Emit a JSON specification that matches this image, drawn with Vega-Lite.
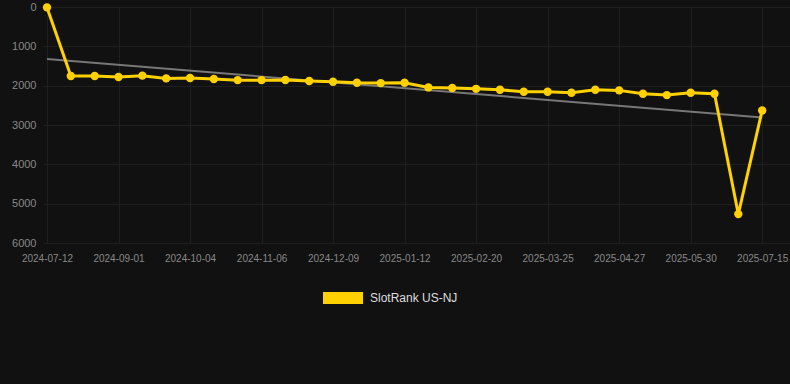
{
  "$schema": "https://vega.github.io/schema/vega-lite/v6.json",
  "width": 747,
  "height": 236,
  "autosize": {"type": "none"},
  "padding": {"left": 43, "top": 7, "right": 0, "bottom": 141},
  "background": "#111111",
  "config": {
    "view": {"stroke": null},
    "font": "Liberation Sans",
    "axis": {"gridColor": "#1f1f1f", "gridWidth": 1, "domain": false, "ticks": false, "labelColor": "#888888", "labelFont": "Liberation Sans"}
  },
  "datasets": {
    "rank": [
      {"date": "2024-07-12", "rank": 10},
      {"date": "2024-07-29", "rank": 1755},
      {"date": "2024-08-15", "rank": 1755},
      {"date": "2024-09-01", "rank": 1780},
      {"date": "2024-09-12", "rank": 1745},
      {"date": "2024-09-23", "rank": 1815},
      {"date": "2024-10-04", "rank": 1805},
      {"date": "2024-10-15", "rank": 1830},
      {"date": "2024-10-26", "rank": 1860},
      {"date": "2024-11-06", "rank": 1860},
      {"date": "2024-11-17", "rank": 1855},
      {"date": "2024-11-28", "rank": 1880},
      {"date": "2024-12-09", "rank": 1900},
      {"date": "2024-12-20", "rank": 1925},
      {"date": "2024-12-31", "rank": 1935},
      {"date": "2025-01-12", "rank": 1925},
      {"date": "2025-01-25", "rank": 2045},
      {"date": "2025-02-07", "rank": 2060},
      {"date": "2025-02-20", "rank": 2080},
      {"date": "2025-03-03", "rank": 2105},
      {"date": "2025-03-14", "rank": 2155},
      {"date": "2025-03-25", "rank": 2155},
      {"date": "2025-04-05", "rank": 2180},
      {"date": "2025-04-16", "rank": 2105},
      {"date": "2025-04-27", "rank": 2120},
      {"date": "2025-05-08", "rank": 2205},
      {"date": "2025-05-19", "rank": 2240},
      {"date": "2025-05-30", "rank": 2180},
      {"date": "2025-06-14", "rank": 2205},
      {"date": "2025-06-29", "rank": 5265},
      {"date": "2025-07-15", "rank": 2630}
    ],
    "trend": [
      {"date": "2024-07-12", "trend": 1320},
      {"date": "2025-07-15", "trend": 2810}
    ]
  },
  "encoding": {
    "x": {
      "field": "date",
      "type": "ordinal",
      "scale": {
        "type": "point",
        "padding": 0.1678,
        "domain": ["2024-07-12", "2024-07-29", "2024-08-15", "2024-09-01", "2024-09-12", "2024-09-23", "2024-10-04", "2024-10-15", "2024-10-26", "2024-11-06", "2024-11-17", "2024-11-28", "2024-12-09", "2024-12-20", "2024-12-31", "2025-01-12", "2025-01-25", "2025-02-07", "2025-02-20", "2025-03-03", "2025-03-14", "2025-03-25", "2025-04-05", "2025-04-16", "2025-04-27", "2025-05-08", "2025-05-19", "2025-05-30", "2025-06-14", "2025-06-29", "2025-07-15", ""]
      },
      "axis": {
        "title": null,
        "grid": true,
        "labelAngle": 0,
        "labelFontSize": 10,
        "labelPadding": 10,
        "values": ["2024-07-12", "2024-09-01", "2024-10-04", "2024-11-06", "2024-12-09", "2025-01-12", "2025-02-20", "2025-03-25", "2025-04-27", "2025-05-30", "2025-07-15"]
      }
    }
  },
  "layer": [
    {
      "data": {"name": "trend"},
      "mark": {"type": "line", "color": "#777777", "strokeWidth": 2, "clip": false},
      "encoding": {
        "y": {
          "field": "trend",
          "type": "quantitative",
          "scale": {"domain": [0, 6000], "reverse": true, "nice": false},
          "axis": {"title": null, "values": [0, 1000, 2000, 3000, 4000, 5000, 6000], "labelFontSize": 11, "labelPadding": 7, "format": "d", "labelOverlap": false}
        }
      }
    },
    {
      "data": {"name": "rank"},
      "mark": {"type": "line", "strokeWidth": 3, "clip": false, "point": {"filled": true, "size": 70, "opacity": 1}},
      "encoding": {
        "y": {
          "field": "rank",
          "type": "quantitative",
          "axis": {"title": null, "values": [0, 1000, 2000, 3000, 4000, 5000, 6000], "labelFontSize": 11, "labelPadding": 7, "format": "d", "labelOverlap": false}
        },
        "color": {
          "datum": "SlotRank US-NJ",
          "type": "nominal",
          "scale": {"range": ["#FFD100"]},
          "legend": {
            "title": null,
            "orient": "none",
            "legendX": 280,
            "legendY": 271,
            "symbolType": "M-1,-0.3H1V0.3H-1Z",
            "symbolSize": 1600,
            "symbolStrokeWidth": 0,
            "symbolOpacity": 1,
            "labelColor": "#dddddd",
            "labelFontSize": 12,
            "labelOffset": 7,
            "labelFont": "Liberation Sans"
          }
        }
      }
    }
  ]
}
